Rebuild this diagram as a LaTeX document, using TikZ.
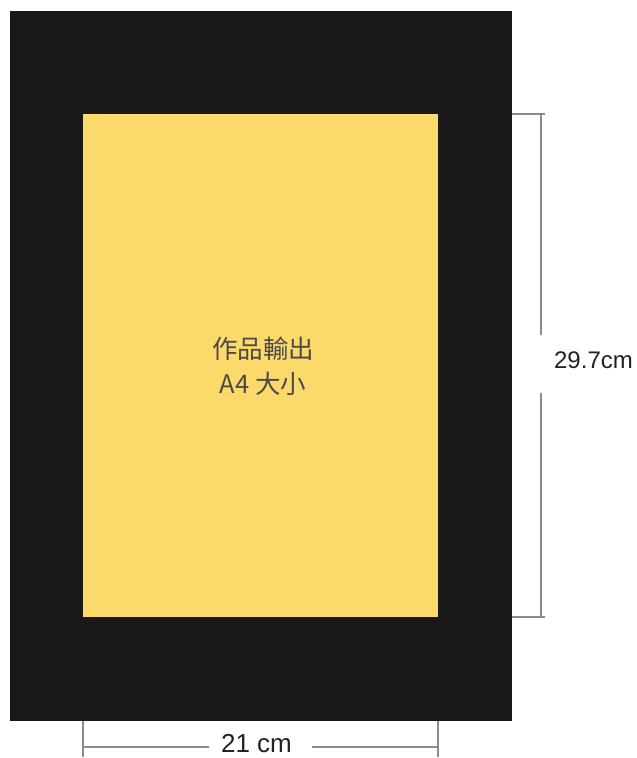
\documentclass[tikz,border=0pt]{standalone}
\usepackage{fontspec}
\setmainfont{Liberation Sans}
\newfontfamily\cjk{Noto Sans CJK TC}
\definecolor{matblack}{HTML}{1A1818}
\definecolor{a4yellow}{HTML}{FCD96B}
\definecolor{dimgray}{HTML}{8C8C8C}
\definecolor{labelgray}{HTML}{4A4A4A}
\definecolor{dimtext}{HTML}{222222}
\begin{document}
\begin{tikzpicture}[x=1pt,y=-1pt,
  sheet/.style={draw=none,inner sep=0pt,outer sep=0pt,anchor=north west},
  dimline/.style={draw=dimgray,line width=1.3pt},
  dimlabel/.style={text=dimtext,inner sep=0pt,font=\fontsize{24}{28}\selectfont}]
\useasboundingbox (0,0) rectangle (637,758);
\fill[white] (0,0) rectangle (637,758);
\node[sheet,fill=matblack,minimum width=502.5pt,minimum height=710.5pt] (mat) at (9.5,10.5) {};
\node[sheet,fill=a4yellow,minimum width=355pt,minimum height=503pt] (a4) at (83,114) {};
\node[text=labelgray,align=center,inner sep=0pt,font=\cjk\fontsize{25.5}{35}\selectfont] (title) at (263,366) {作品輸出\\A4 大小};
% vertical dimension
\coordinate (vt) at (541,114);
\coordinate (vb) at (541,617);
\coordinate (vtl) at (512,114);
\coordinate (vtr) at (545,114);
\coordinate (vbl) at (512,617);
\coordinate (vbr) at (545,617);
\node[dimlabel] (hlabel) at (593.5,360) {29.7cm};
\coordinate (vgap1) at (541,335);
\coordinate (vgap2) at (541,393);
\draw[dimline] (vtl) -- (vtr);
\draw[dimline] (vbl) -- (vbr);
\draw[dimline] (vt) -- (vgap1);
\draw[dimline] (vgap2) -- (vb);
% horizontal dimension
\coordinate (hl) at (83,747);
\coordinate (hr) at (438,747);
\coordinate (hlt) at (83,721);
\coordinate (hlb) at (83,757);
\coordinate (hrt) at (438,721);
\coordinate (hrb) at (438,757);
\node[dimlabel,font=\fontsize{26}{30}\selectfont] (wlabel) at (256.5,744) {21 cm};
\coordinate (hgap1) at (209,747);
\coordinate (hgap2) at (312,747);
\draw[dimline] (hlt) -- (hlb);
\draw[dimline] (hrt) -- (hrb);
\draw[dimline] (hl) -- (hgap1);
\draw[dimline] (hgap2) -- (hr);
\end{tikzpicture}
\end{document}
